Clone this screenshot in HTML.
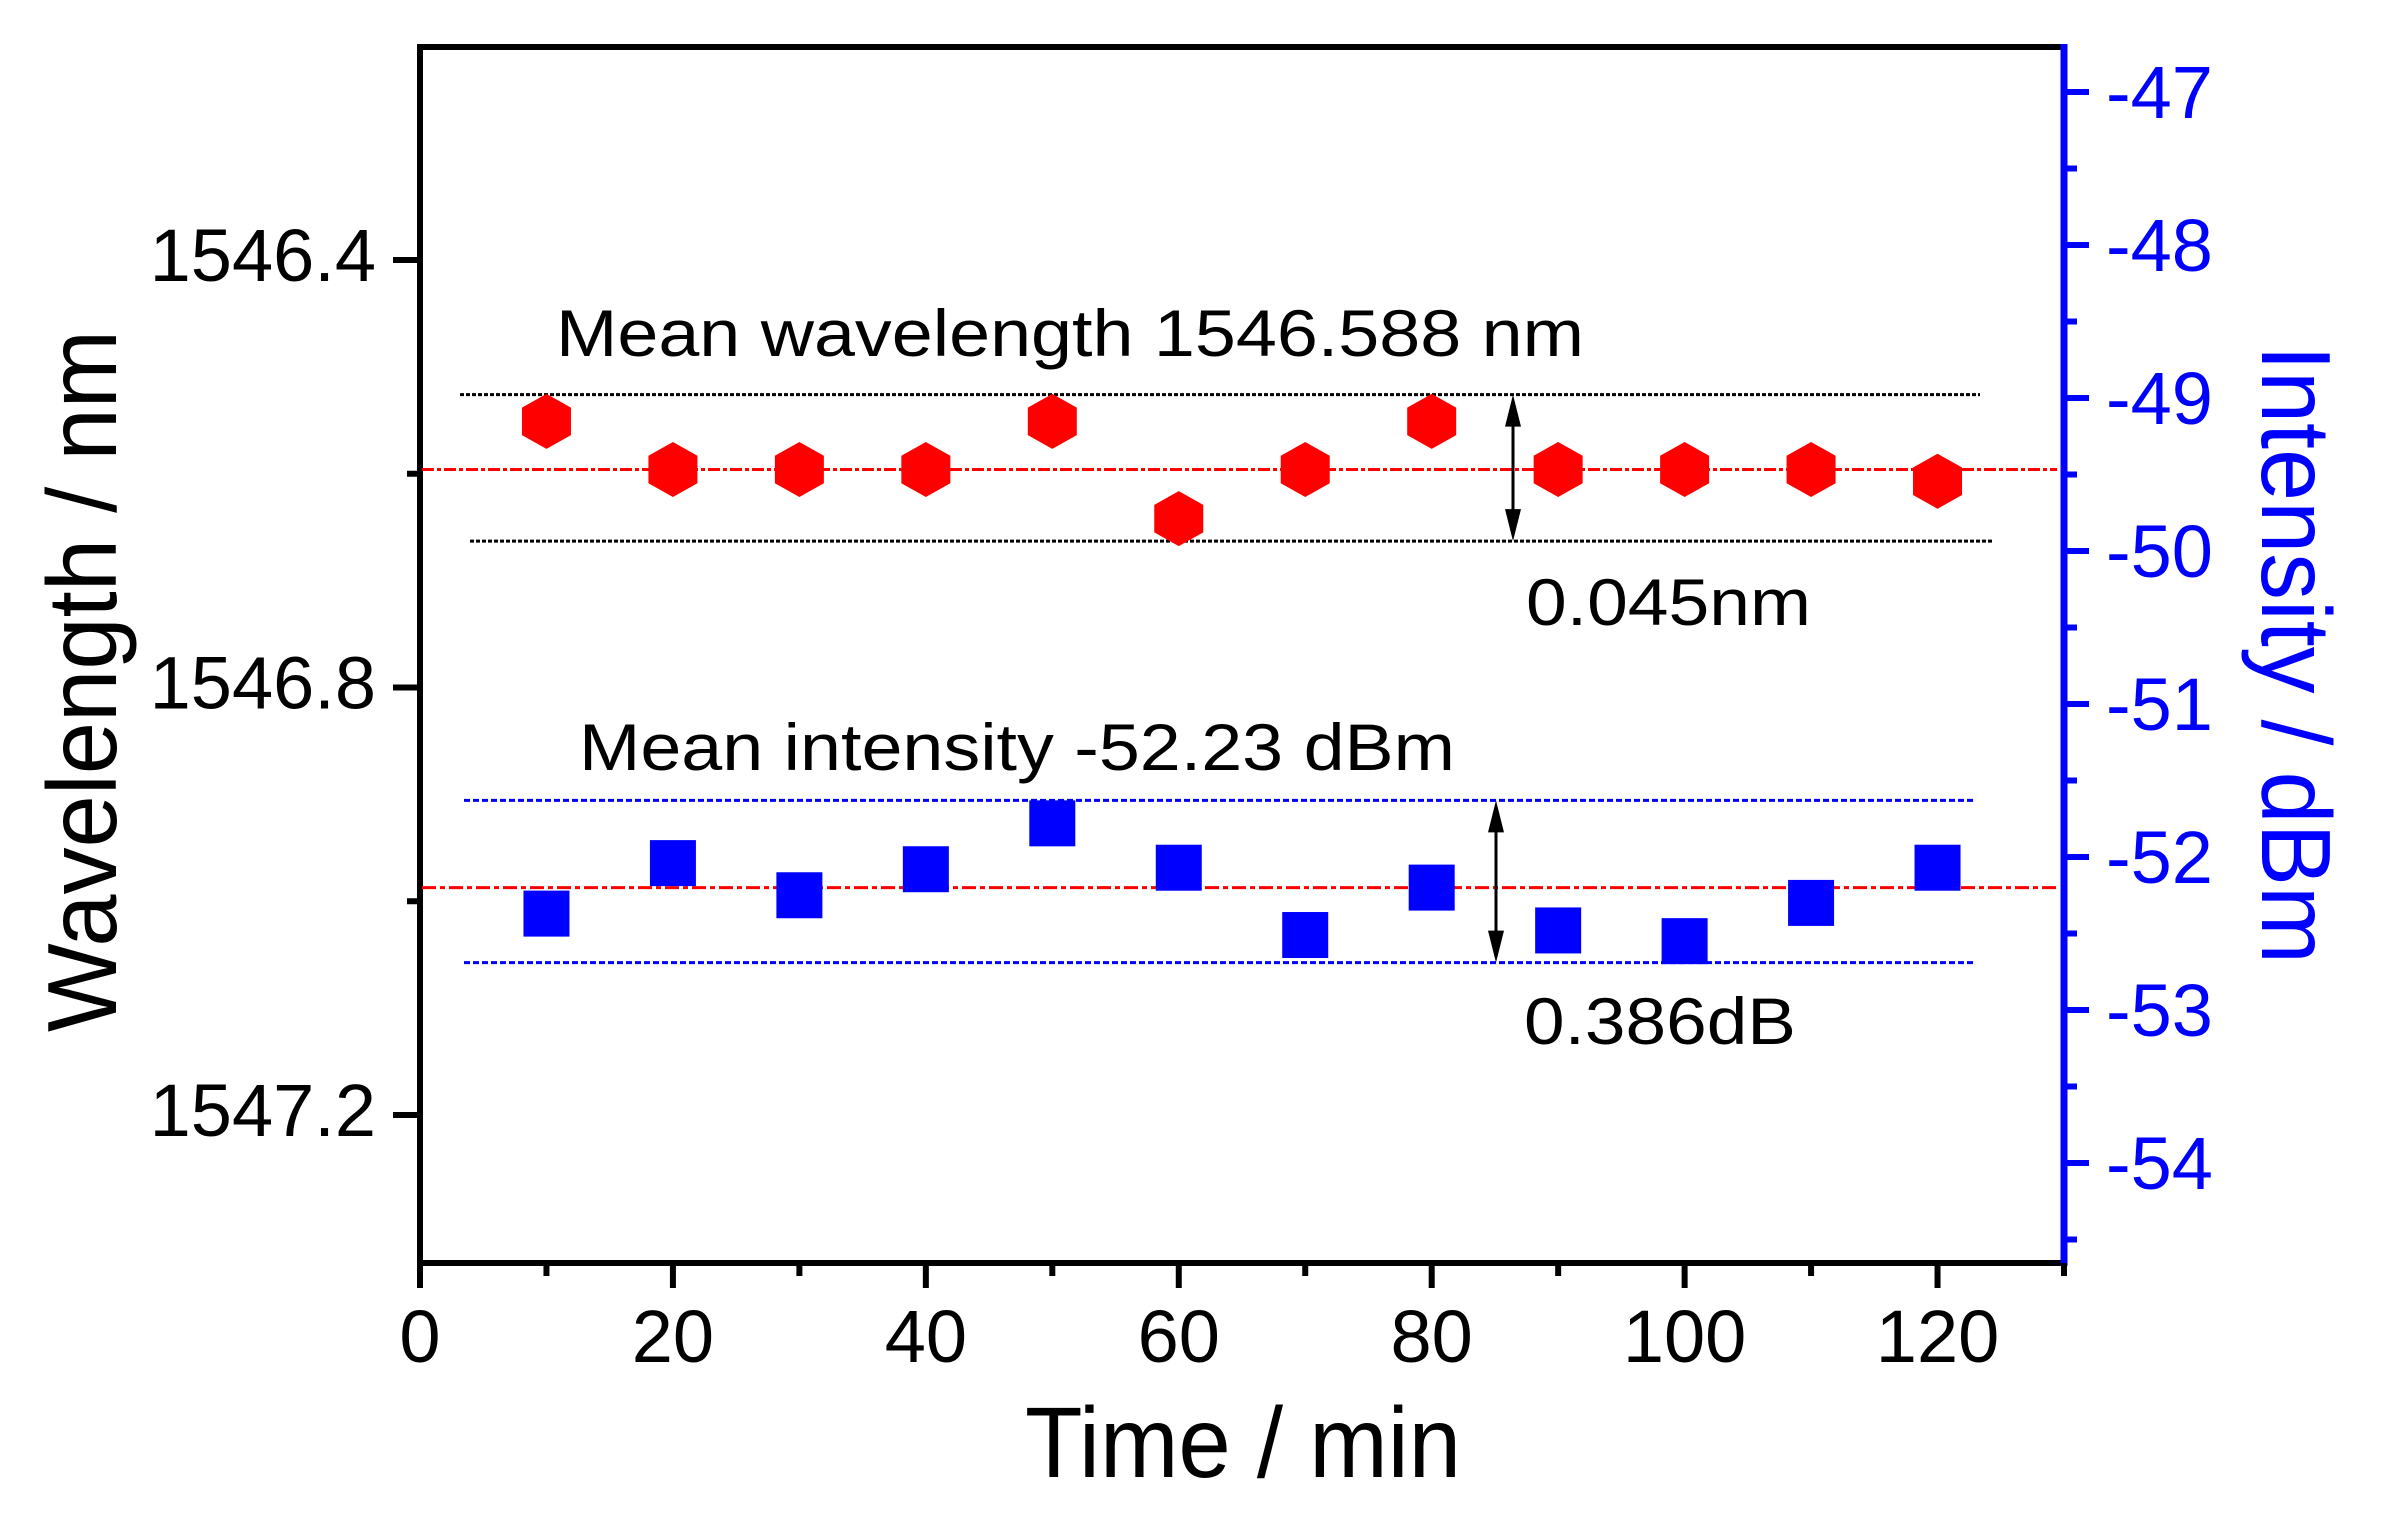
<!DOCTYPE html>
<html><head><meta charset="utf-8"><style>
html,body{margin:0;padding:0;background:#fff;}
svg{display:block;font-family:"Liberation Sans",Arial,sans-serif;}
</style></head><body>
<svg id="chart" width="2404" height="1520" viewBox="0 0 2404 1520">
<g id="frame"></g>
<g id="lines"></g>
<g id="marks"></g>
<g id="ann">
<text x="556" y="356" font-size="66" textLength="1028" lengthAdjust="spacingAndGlyphs">Mean wavelength 1546.588 nm</text>
<text x="1526" y="625" font-size="66" textLength="285" lengthAdjust="spacingAndGlyphs">0.045nm</text>
<text x="579" y="770" font-size="66" textLength="876" lengthAdjust="spacingAndGlyphs">Mean intensity -52.23 dBm</text>
<text x="1524" y="1044" font-size="66" textLength="272" lengthAdjust="spacingAndGlyphs">0.386dB</text>
<text x="1025" y="1477" font-size="100" textLength="436" lengthAdjust="spacingAndGlyphs">Time / min</text>
<text transform="translate(116,1032) rotate(-90)" font-size="98" textLength="702" lengthAdjust="spacingAndGlyphs">Wavelength / nm</text>
<text transform="translate(2262,345) rotate(90)" font-size="98" fill="#0000ff" textLength="619" lengthAdjust="spacingAndGlyphs">Intensity / dBm</text>
</g>
</svg>
<script>
const times = [10,20,30,40,50,60,70,80,90,100,110,120];
const wavelength = [1546.551,1546.596,1546.596,1546.596,1546.551,1546.642,1546.596,1546.551,1546.596,1546.596,1546.596,1546.607];
const intensity = [-52.37,-52.04,-52.25,-52.08,-51.78,-52.07,-52.51,-52.20,-52.48,-52.55,-52.30,-52.07];
const xTicks = [0,20,40,60,80,100,120];
const leftTicks = [1546.4,1546.8,1547.2];
const leftMinor = [1546.6,1547.0];
const rightTicks = [-47,-48,-49,-50,-51,-52,-53,-54];
const rightMinor = [-47.5,-48.5,-49.5,-50.5,-51.5,-52.5,-53.5,-54.5];
const wlBand = [1546.526,1546.596,1546.663];
const inBand = [-51.63,-52.20,-52.69];

const NS='http://www.w3.org/2000/svg';
const L=420,R=2064,T=47,B=1263;
const X=v=>L+(v/130)*(R-L);
const YL=v=>260+(v-1546.4)/0.4*427.5;
const YR=v=>92+(-47-v)*153;
function mk(p,tag,at){const e=document.createElementNS(NS,tag);for(const k in at)e.setAttribute(k,at[k]);p.appendChild(e);return e;}
const frame=document.getElementById('frame'),lines=document.getElementById('lines'),marks=document.getElementById('marks');

let e;
e=mk(frame,'rect',{x:L,y:T,width:R-L,height:B-T,fill:'none',stroke:'#000','stroke-width':6});


e=mk(frame,'line',{x1:R,y1:T-3,x2:R,y2:B+3,stroke:'#0000ff','stroke-width':7});



for(let v=0;v<=130;v+=10){
  const major=v%20===0;
  e=mk(frame,'line',{x1:X(v),y1:B,x2:X(v),y2:B+(major?25:13),stroke:'#000','stroke-width':6});
  
  
}
xTicks.forEach(v=>{
  e=mk(frame,'text',{x:X(v),y:1362,'font-size':74,'text-anchor':'middle'});
  e.textContent=String(v);
  
  
});
leftTicks.forEach(v=>{
  e=mk(frame,'line',{x1:L-27,y1:YL(v),x2:L,y2:YL(v),stroke:'#000','stroke-width':6});
  
  
  e=mk(frame,'text',{x:376,y:YL(v)+21,'font-size':74,'text-anchor':'end'});
  e.textContent=v.toFixed(1);
  
  
});
leftMinor.forEach(v=>{
  e=mk(frame,'line',{x1:L-13,y1:YL(v),x2:L,y2:YL(v),stroke:'#000','stroke-width':6});
  
  
});
rightTicks.forEach(v=>{
  e=mk(frame,'line',{x1:R,y1:YR(v),x2:R+25,y2:YR(v),stroke:'#0000ff','stroke-width':6});
  
  
  e=mk(frame,'text',{x:2106,y:YR(v)+26,'font-size':74,fill:'#0000ff'});
  e.textContent=String(v);
  
  
});
rightMinor.forEach(v=>{
  e=mk(frame,'line',{x1:R,y1:YR(v),x2:R+13,y2:YR(v),stroke:'#0000ff','stroke-width':6});
  
  
});

function hline(y,x1,x2,col,dash,name){
  const l=mk(lines,'line',{x1:x1,y1:y,x2:x2,y2:y,stroke:col,'stroke-width':3,'stroke-dasharray':dash});
  
  
}
hline(YL(wlBand[0]),460,1980,'#000','4 2','wavelength-upper-bound');
hline(YL(wlBand[2]),470,1993,'#000','4 2','wavelength-lower-bound');
hline(YL(wlBand[1]),422,2057,'#ff0000','12 3 4 3','wavelength-mean-line');
hline(YR(inBand[0]),464,1974,'#0000ff','6 3','intensity-upper-bound');
hline(YR(inBand[2]),464,1974,'#0000ff','6 3','intensity-lower-bound');
hline(YR(inBand[1]),422,2057,'#ff0000','14 4 5 4','intensity-mean-line');

function arrow(x,y1,y2,name){
  const g=mk(lines,'g',{});
  
  
  mk(g,'line',{x1:x,y1:y1+20,x2:x,y2:y2-20,stroke:'#000','stroke-width':3});
  mk(g,'polygon',{points:`${x},${y1} ${x-8},${y1+32} ${x+8},${y1+32}`,fill:'#000'});
  mk(g,'polygon',{points:`${x},${y2} ${x-8},${y2-32} ${x+8},${y2-32}`,fill:'#000'});
}
arrow(1513,YL(wlBand[0]),YL(wlBand[2]),'wavelength-range-arrow');
arrow(1496,YR(inBand[0]),YR(inBand[2]),'intensity-range-arrow');

times.forEach((t,i)=>{
  const cx=X(t),cy=YL(wavelength[i]);
  const w=24.5,h=27.5;
  const p=mk(marks,'polygon',{points:`${cx},${cy-h} ${cx+w},${cy-h/2} ${cx+w},${cy+h/2} ${cx},${cy+h} ${cx-w},${cy+h/2} ${cx-w},${cy-h/2}`,fill:'#ff0000'});
  
  
});
times.forEach((t,i)=>{
  const cx=X(t),cy=YR(intensity[i]);
  const r=mk(marks,'rect',{x:cx-23,y:cy-23,width:46,height:46,fill:'#0000ff'});
  
  
});
</script>
</body></html>
